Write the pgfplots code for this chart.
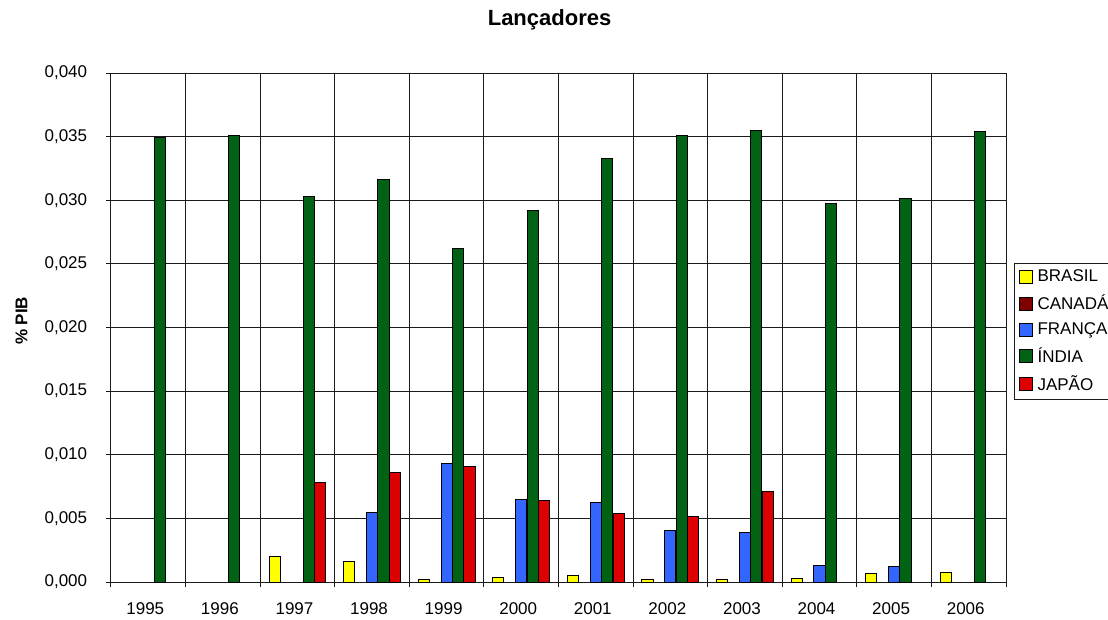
\documentclass[border=0pt]{standalone}
\usepackage{pgfplots}
\pgfplotsset{compat=1.18}
\usepackage{fontspec}
\setmainfont{Liberation Sans}

\definecolor{cbrasil}{HTML}{FFFF00}
\definecolor{ccanada}{HTML}{800000}
\definecolor{cfranca}{HTML}{3366FF}
\definecolor{cindia}{HTML}{026214}
\definecolor{cjapao}{HTML}{DD0000}
\definecolor{gridc}{HTML}{1A1A1A}

\begin{document}
\fontsize{17}{20.4}\selectfont
\begin{tikzpicture}
\begin{axis}[
  scale only axis,
  width=895pt, height=509pt,
  xmin=-0.5, xmax=11.5,
  ymin=0, ymax=0.04,
  % category boundaries carry the ticks and vertical grid
  xtick={-0.5,0.5,...,11.5},
  xticklabels={},
  extra x ticks={0,...,11},
  extra x tick labels={1995,1996,1997,1998,1999,2000,2001,2002,2003,2004,2005,2006},
  extra x tick style={major tick length=0pt, grid=none,
    xticklabel style={anchor=base, yshift=-32pt, xshift=-3pt}},
  xmajorgrids, ymajorgrids,
  major grid style={gridc, line width=1pt},
  axis line style={gridc, line width=1pt},
  every tick/.style={gridc, line width=1pt},
  tick align=outside,
  xtick pos=left, ytick pos=left,
  major tick length=5pt,
  ytick={0,0.005,...,0.0401},
  scaled y ticks=false,
  yticklabel style={xshift=-13pt, /pgf/number format/.cd, fixed, fixed zerofill, precision=3, use comma, assume math mode=true},
  ylabel={\bfseries \% PIB},
  ylabel style={at={(axis description cs:-0.1,0.513)}, anchor=center},
  title={\bfseries Lançadores},
  title style={at={(axis description cs:0.49,1)}, anchor=base, yshift=41pt, font=\fontsize{22}{26}\selectfont},
  bar width=0.15,
  legend style={at={(rel axis cs:1.009,0.626)}, anchor=north west,
    draw=gridc, line width=1pt, fill=white, inner xsep=2pt, inner ysep=4pt,
    row sep=6.6pt, font=\fontsize{17}{20.4}\selectfont},
  legend cell align=left,
  legend image code/.code={
    \draw[#1, draw=black, line width=1pt] (3pt,-6.5pt) rectangle (16pt,6.5pt);
    \path[draw=none, fill=none] (0pt,0pt) -- (19pt,0pt);},
]
% Brasil
\addplot[ybar, bar shift=-0.306, fill=cbrasil, draw=black, line width=1pt] coordinates {
  (2,0.00202) (3,0.00162) (4,0.00021) (5,0.00037) (6,0.00052)
  (7,0.00021) (8,0.00020) (9,0.00026) (10,0.00065) (11,0.00076)};
\addlegendentry{BRASIL}
% Canadá: no launcher spending in the period
\addlegendimage{fill=ccanada}
\addlegendentry{CANADÁ}
% França
\addplot[ybar, bar shift=0, fill=cfranca, draw=black, line width=1pt] coordinates {
  (3,0.00547) (4,0.00929) (5,0.00652) (6,0.00625) (7,0.00406)
  (8,0.00387) (9,0.00131) (10,0.00118)};
\addlegendentry{FRANÇA}
% Índia
\addplot[ybar, bar shift=0.153, fill=cindia, draw=black, line width=1pt] coordinates {
  (0,0.03490) (1,0.03505) (2,0.03028) (3,0.03162) (4,0.02623) (5,0.02916)
  (6,0.03330) (7,0.03505) (8,0.03547) (9,0.02973) (10,0.03015) (11,0.03543)};
\addlegendentry{ÍNDIA}
% Japão
\addplot[ybar, bar shift=0.306, fill=cjapao, draw=black, line width=1pt] coordinates {
  (2,0.00785) (3,0.00858) (4,0.00910) (5,0.00644) (6,0.00542)
  (7,0.00513) (8,0.00714)};
\addlegendentry{JAPÃO}
\end{axis}
\pgfresetboundingbox
\path[use as bounding box] (-111pt,-37pt) rectangle (997pt,582pt);
\end{tikzpicture}
\end{document}
